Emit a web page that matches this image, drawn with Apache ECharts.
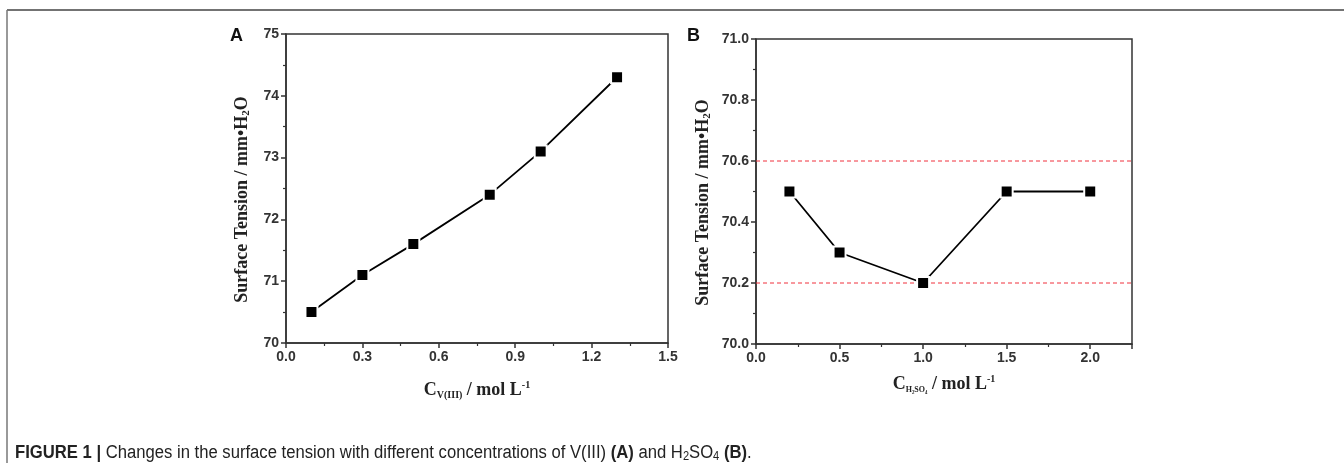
<!DOCTYPE html>
<html><head><meta charset="utf-8">
<script src="https://cdn.jsdelivr.net/npm/echarts@6/dist/echarts.min.js"></script>
<style>html,body{margin:0;padding:0;background:#fff}#c{width:1344px;height:471px}</style>
</head><body><div id="c"></div>
<script>
// Panel A: V(III) concentration
const concV = [0.1, 0.3, 0.5, 0.8, 1.0, 1.3];
const tensionA = [70.5, 71.1, 71.6, 72.4, 73.1, 74.3];
// Panel B: H2SO4 concentration
const concH = [0.2, 0.5, 1.0, 1.5, 2.0];
const tensionB = [70.5, 70.3, 70.2, 70.5, 70.5];
const refLinesB = [70.6, 70.2];
const xRangeB = [0, 2.25];

const pairs = (xs, ys) => xs.map((x, i) => [x, ys[i]]);
const serif = '"Liberation Serif", "Times New Roman", serif';
const sans = '"Liberation Sans", Arial, sans-serif';
const axCol = '#333';

const titleRich = {
  b: {fontFamily: serif, fontWeight: 'bold', fontSize: 18, color: '#222', lineHeight: 20},
  s: {fontFamily: serif, fontWeight: 'bold', fontSize: 11, color: '#222', lineHeight: 9, verticalAlign: 'bottom'}
};
const xRich = {
  b: {fontFamily: serif, fontWeight: 'bold', fontSize: 18, color: '#222', lineHeight: 20},
  s: {fontFamily: serif, fontWeight: 'bold', fontSize: 10, color: '#222', lineHeight: 6, verticalAlign: 'bottom'},
  s2: {fontFamily: serif, fontWeight: 'bold', fontSize: 8, color: '#222', lineHeight: 6, verticalAlign: 'bottom'},
  p: {fontFamily: serif, fontWeight: 'bold', fontSize: 10, color: '#222', lineHeight: 8, verticalAlign: 'top'}
};

function xAx(idx, max, interval, name, gap) {
  return {
    type: 'value', gridIndex: idx, min: 0, max: max, interval: interval,
    axisLine: {show: true, onZero: false, lineStyle: {color: axCol, width: 1.5}},
    axisTick: {show: true, inside: false, length: 5, lineStyle: {color: axCol, width: 1.5}},
    minorTick: {show: true, splitNumber: 2, length: 3, lineStyle: {color: axCol, width: 1.2}},
    splitLine: {show: false},
    axisLabel: {fontFamily: sans, fontWeight: 'bold', fontSize: 14, color: '#333', margin: 7,
      formatter: v => (Math.abs(v / interval - Math.round(v / interval)) < 1e-6 ? v.toFixed(1) : '')},
    name: name, nameLocation: 'middle', nameGap: gap,
    nameTextStyle: {rich: xRich}
  };
}
function yAx(idx, min, max, interval, dec, gap) {
  return {
    type: 'value', gridIndex: idx, min: min, max: max, interval: interval,
    axisLine: {show: true, onZero: false, lineStyle: {color: axCol, width: 1.5}},
    axisTick: {show: true, inside: false, length: 5, lineStyle: {color: axCol, width: 1.5}},
    minorTick: {show: true, splitNumber: 2, length: 3, lineStyle: {color: axCol, width: 1.2}},
    splitLine: {show: false},
    axisLabel: {fontFamily: sans, fontWeight: 'bold', fontSize: 14, color: '#333', margin: 7,
      formatter: v => v.toFixed(dec)},
    name: '{b|Surface Tension / mm•H}{s|2}{b|O}', nameLocation: 'middle', nameGap: gap, nameRotate: 90,
    nameTextStyle: {rich: titleRich, padding: [0, 0, 0, -22]}
  };
}

const chart = echarts.init(document.getElementById('c'), null, {renderer: 'canvas'});
chart.setOption({
  animation: false,
  backgroundColor: '#fff',
  grid: [
    {left: 286, top: 34, width: 382, height: 309, show: true, borderColor: axCol, borderWidth: 1.5},
    {left: 756, top: 39, width: 376, height: 305, show: true, borderColor: axCol, borderWidth: 1.5}
  ],
  xAxis: [
    xAx(0, 1.5, 0.3, '{b|C}{s|V(III)}{b| / mol L}{p|-1}', 37),
    xAx(1, 2.25, 0.5, '{b|C}{s2|H₂SO₄}{b| / mol L}{p|-1}', 30)
  ],
  yAxis: [
    yAx(0, 70, 75, 1, 0, 34),
    yAx(1, 70, 71, 0.2, 1, 43)
  ],
  series: refLinesB.map(v => ({
      type: 'line', xAxisIndex: 1, yAxisIndex: 1, data: xRangeB.map(x => [x, v]),
      symbol: 'none', silent: true, z: 1,
      lineStyle: {color: '#f0303c', type: [4, 3], width: 1}
    })).concat([
    {type: 'line', xAxisIndex: 0, yAxisIndex: 0, data: pairs(concV, tensionA),
     symbol: 'rect', symbolSize: 12, showAllSymbol: true,
     lineStyle: {color: '#000', width: 1.8},
     itemStyle: {color: '#000', borderColor: '#fff', borderWidth: 2}},
    {type: 'line', xAxisIndex: 1, yAxisIndex: 1, data: pairs(concH, tensionB),
     symbol: 'rect', symbolSize: 12, showAllSymbol: true, z: 3,
     lineStyle: {color: '#000', width: 1.8},
     itemStyle: {color: '#000', borderColor: '#fff', borderWidth: 2}}
  ]),
  graphic: [
    {type: 'line', shape: {x1: 7, y1: 10, x2: 1344, y2: 10}, style: {stroke: '#444', lineWidth: 1.5}},
    {type: 'line', shape: {x1: 7, y1: 10, x2: 7, y2: 463}, style: {stroke: '#777', lineWidth: 1.5}},
    {type: 'text', left: 230, top: 27, style: {text: 'A', font: 'bold 18px ' + sans, fill: '#111'}},
    {type: 'text', left: 687, top: 27, style: {text: 'B', font: 'bold 18px ' + sans, fill: '#111'}},
    {type: 'text', x: 15, y: 443, scaleX: 0.925, style: {
      text: '{b|FIGURE 1 |} {r|Changes in the surface tension with different concentrations of V(III)} {b|(A)} {r|and H}{s|2}{r|SO}{s|4} {b|(B)}{r|.}',
      rich: {
        b: {fontFamily: sans, fontWeight: 'bold', fontSize: 18, fill: '#222', lineHeight: 20},
        r: {fontFamily: sans, fontSize: 18, fill: '#222', lineHeight: 20},
        s: {fontFamily: sans, fontSize: 12, fill: '#222', lineHeight: 10, verticalAlign: 'bottom'}
      },
      font: '18px ' + sans, fill: '#222'
    }}
  ]
});
</script></body></html>
